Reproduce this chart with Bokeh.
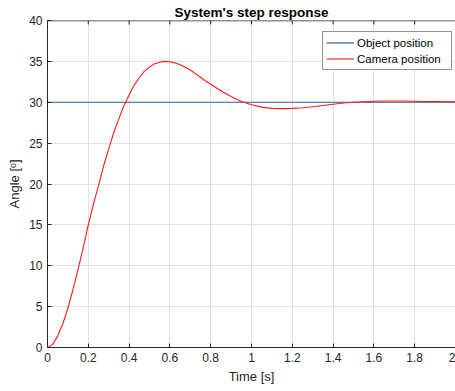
from bokeh.plotting import figure
from bokeh.models import Range1d, Legend, LegendItem, FixedTicker, Span
from bokeh.embed import file_html
from bokeh.resources import INLINE

# ---- data ----
time_s = [0.0, 0.025, 0.05, 0.075, 0.1, 0.125, 0.15, 0.175, 0.2, 0.225, 0.25, 0.275,
          0.3, 0.325, 0.35, 0.375, 0.4, 0.425, 0.45, 0.475, 0.5, 0.525, 0.55, 0.575,
          0.6, 0.625, 0.65, 0.675, 0.7, 0.725, 0.75, 0.775, 0.8, 0.825, 0.85, 0.875,
          0.9, 0.925, 0.95, 0.975, 1.0, 1.05, 1.1, 1.15, 1.2, 1.25, 1.3, 1.35,
          1.4, 1.45, 1.5, 1.55, 1.6, 1.65, 1.7, 1.75, 1.8, 1.85, 1.9, 1.95, 2.0]
camera_deg = [0.0, 0.35, 1.4, 2.9, 4.8, 7.1, 9.6, 12.2, 15.0, 17.5, 19.8, 22.2,
              24.3, 26.3, 28.0, 29.6, 30.9, 32.1, 33.0, 33.8, 34.3, 34.7, 34.9, 35.0,
              34.95, 34.82, 34.6, 34.29, 33.95, 33.5, 33.05, 32.6, 32.2, 31.8, 31.4, 31.05,
              30.7, 30.4, 30.1, 29.9, 29.7, 29.4, 29.25, 29.22, 29.25, 29.33, 29.45, 29.6,
              29.75, 29.9, 30.0, 30.07, 30.12, 30.15, 30.16, 30.15, 30.13, 30.1, 30.08, 30.06, 30.05]
object_time = [0.0, 2.0]
object_deg = [30.0, 30.0]

x_ticks = [0, 0.2, 0.4, 0.6, 0.8, 1.0, 1.2, 1.4, 1.6, 1.8, 2.0]
x_tick_labels = ["0", "0.2", "0.4", "0.6", "0.8", "1", "1.2", "1.4", "1.6", "1.8", "2"]
y_ticks = [0, 5, 10, 15, 20, 25, 30, 35, 40]
x_max = 2.0
y_max = 40

title_text = "System's step response"
x_label = "Time [s]"
y_label = "Angle [ᵒ]"
series_names = ["Object position", "Camera position"]

FONT = "Liberation Sans"
AX = "#262626"

p = figure(width=455, height=391, output_backend="svg", toolbar_location=None,
           x_range=Range1d(0, x_max), y_range=Range1d(0, y_max), title=title_text,
           min_border_left=47, min_border_right=0, min_border_top=20, min_border_bottom=44)
p.outline_line_color = None
p.background_fill_color = "white"
p.border_fill_color = "white"

p.title.align = "center"
p.title.text_font = FONT
p.title.text_font_size = "13.5px"
p.title.text_font_style = "bold"
p.title.text_color = "black"
p.title.standoff = 2
p.title.offset = 0

for g in (p.xgrid[0], p.ygrid[0]):
    g.grid_line_color = "#e2e2e2"
    g.grid_line_width = 1
p.xgrid[0].ticker = FixedTicker(ticks=x_ticks)
p.ygrid[0].ticker = FixedTicker(ticks=y_ticks)

r_obj = p.line(object_time, object_deg, line_color="#2f5fad", line_width=1.2)
r_cam = p.line(time_s, camera_deg, line_color="#ff1a1a", line_width=1.1)

# top box edge with inward ticks
p.add_layout(Span(location=y_max, dimension="width", line_color=AX, line_width=1.5))
p.ray(x=x_ticks, y=[y_max] * len(x_ticks), length=4, length_units="screen",
      angle=-90, angle_units="deg", line_color=AX, line_width=1)

xa = p.xaxis[0]
xa.ticker = FixedTicker(ticks=x_ticks)
xa.major_label_overrides = {t: l for t, l in zip(x_ticks, x_tick_labels)}
xa.axis_label = x_label
ya = p.yaxis[0]
ya.ticker = FixedTicker(ticks=y_ticks)
ya.axis_label = y_label

for a in (xa, ya):
    a.axis_line_color = AX
    a.major_tick_line_color = AX
    a.major_tick_in = 4
    a.major_tick_out = 0
    a.minor_tick_line_color = None
    a.major_label_text_font = FONT
    a.major_label_text_font_size = "12px"
    a.major_label_text_color = AX
    a.axis_label_text_font = FONT
    a.axis_label_text_font_size = "13px"
    a.axis_label_text_font_style = "normal"
    a.axis_label_text_color = AX
xa.major_label_standoff = 5
xa.axis_label_standoff = 4
ya.major_label_standoff = 5
ya.axis_label_standoff = 4

legend = Legend(items=[LegendItem(label=series_names[0], renderers=[r_obj]),
                       LegendItem(label=series_names[1], renderers=[r_cam])],
                location=(275, 277))
legend.margin = 0
legend.padding = 3
legend.spacing = 1
legend.label_standoff = 3
legend.glyph_width = 28
legend.glyph_height = 15
legend.label_height = 15
legend.label_width = 91
legend.label_text_font = FONT
legend.label_text_font_size = "11.5px"
legend.label_text_color = "black"
legend.border_line_color = AX
legend.border_line_width = 1
legend.background_fill_color = "white"
legend.background_fill_alpha = 1
p.add_layout(legend)

open("out.html", "w").write(file_html(p, INLINE))
